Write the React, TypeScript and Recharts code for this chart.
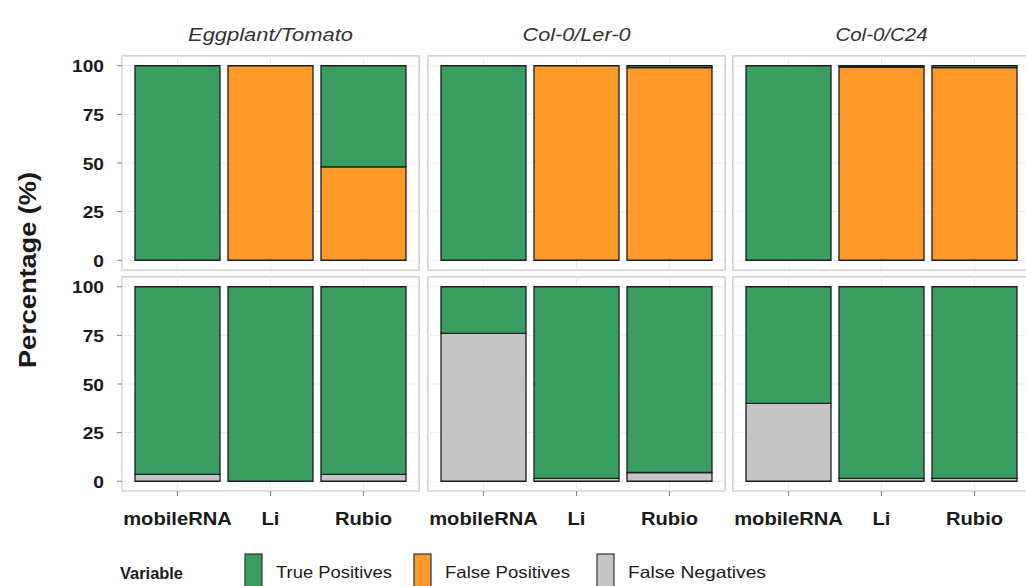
import { BarChart, Bar, XAxis, YAxis, CartesianGrid } from "recharts"

const methods = ["mobileRNA", "Li", "Rubio"]
const panelTitles = ["Eggplant/Tomato", "Col-0/Ler-0", "Col-0/C24"]
const yTicks = [0, 25, 50, 75, 100]

// top row: true positives stacked over false positives
const eggTopTP = [100, 0, 52]
const eggTopFP = [0, 100, 48]
const lerTopTP = [100, 0, 1]
const lerTopFP = [0, 100, 99]
const c24TopTP = [100, 0.7, 1]
const c24TopFP = [0, 99.3, 99]

// bottom row: true positives stacked over false negatives
const eggBotTP = [96.5, 100, 96.5]
const eggBotFN = [3.5, 0, 3.5]
const lerBotTP = [24, 98.5, 95.5]
const lerBotFN = [76, 1.5, 4.5]
const c24BotTP = [60, 98.5, 98.5]
const c24BotFN = [40, 1.5, 1.5]

const GREEN = "#3a9e63"
const ORANGE = "#fd9a2a"
const GREY = "#c5c5c5"
const FONT = "'Liberation Sans', Arial, Helvetica, sans-serif"

const PANEL_X = [122, 428, 733]
const PANEL_Y = [56, 277]
const PANEL_W = 297
const PANEL_H = 214
const YAXIS_W = 60
const XAXIS_H = 45

function rows(tp: number[], other: number[]) {
  return methods.map((m, i) => ({ method: m, tp: tp[i], other: other[i] }))
}

function YTick({ x, y, payload }: any) {
  return (
    <g transform={`translate(${x},${y})`}>
      <text
        transform="scale(1.2,1)"
        textAnchor="end"
        dy="0.42em"
        fontSize={16}
        fontWeight="bold"
        fontFamily={FONT}
        fill="#1a1a1a"
      >
        {payload.value}
      </text>
    </g>
  )
}

function XTick({ x, y, payload }: any) {
  return (
    <g transform={`translate(${x},${y})`}>
      <text
        transform="scale(1.12,1)"
        textAnchor="middle"
        dy="0.71em"
        fontSize={18}
        fontWeight="bold"
        fontFamily={FONT}
        fill="#1a1a1a"
      >
        {payload.value}
      </text>
    </g>
  )
}

function Panel({
  col,
  row,
  data,
  otherColor,
}: {
  col: number
  row: number
  data: { method: string; tp: number; other: number }[]
  otherColor: string
}) {
  const showY = col === 0
  const showX = row === 1
  const left = PANEL_X[col] - (showY ? YAXIS_W : 0)
  const width = PANEL_W + (showY ? YAXIS_W : 0)
  const height = PANEL_H + (showX ? XAXIS_H : 0)
  return (
    <div style={{ position: "absolute", left, top: PANEL_Y[row] }}>
      <BarChart
        width={width}
        height={height}
        data={data}
        margin={{ top: 0, right: 0, bottom: 0, left: 0 }}
        barCategoryGap={4}
      >
        <CartesianGrid stroke="#ededed" strokeWidth={1} />
        <XAxis
          dataKey="method"
          hide={!showX}
          height={XAXIS_H}
          padding={{ left: 9, right: 9 }}
          axisLine={false}
          tickLine={{ stroke: "#808080" }}
          tickSize={5}
          tickMargin={16}
          tick={<XTick />}
          interval={0}
        />
        <YAxis
          hide={!showY}
          width={YAXIS_W}
          domain={[-5, 105]}
          ticks={yTicks}
          allowDataOverflow
          axisLine={false}
          tickLine={{ stroke: "#808080" }}
          tickSize={5}
          tickMargin={13}
          tick={<YTick />}
        />
        <Bar dataKey="other" stackId="s" fill={otherColor} stroke="#1e1e1e" strokeWidth={1.3} isAnimationActive={false} />
        <Bar dataKey="tp" stackId="s" fill={GREEN} stroke="#1e1e1e" strokeWidth={1.3} isAnimationActive={false} />
      </BarChart>
    </div>
  )
}

export default function App() {
  const top = [rows(eggTopTP, eggTopFP), rows(lerTopTP, lerTopFP), rows(c24TopTP, c24TopFP)]
  const bottom = [rows(eggBotTP, eggBotFN), rows(lerBotTP, lerBotFN), rows(c24BotTP, c24BotFN)]
  const titleWidths = [165, 108, 92]
  const legend = [
    { label: "True Positives", color: GREEN, x: 245, w: 116 },
    { label: "False Positives", color: ORANGE, x: 414, w: 125 },
    { label: "False Negatives", color: GREY, x: 597, w: 138 },
  ]

  return (
    <div
      style={{
        position: "absolute",
        left: 0,
        top: 0,
        width: 1026,
        height: 586,
        overflow: "hidden",
        background: "#fff",
        fontFamily: FONT,
      }}
    >
      <svg width={1026} height={586} style={{ position: "absolute", left: 0, top: 0 }}>
        {PANEL_Y.map((py) =>
          PANEL_X.map((px) => (
            <rect
              key={`${px}-${py}`}
              x={px}
              y={py}
              width={PANEL_W}
              height={PANEL_H}
              fill="#fff"
              stroke="#c4c4c4"
              strokeWidth={1.5}
            />
          ))
        )}
        {panelTitles.map((t, i) => (
          <text
            key={t}
            x={PANEL_X[i] + PANEL_W / 2}
            y={41}
            textAnchor="middle"
            fontSize={19}
            fontStyle="italic"
            fontFamily={FONT}
            fill="#333"
            textLength={titleWidths[i]}
            lengthAdjust="spacingAndGlyphs"
          >
            {t}
          </text>
        ))}
        <text
          transform="translate(36,270) rotate(-90)"
          textAnchor="middle"
          fontSize={24}
          fontWeight="bold"
          fontFamily={FONT}
          fill="#1a1a1a"
          textLength={196}
          lengthAdjust="spacingAndGlyphs"
        >
          Percentage (%)
        </text>
        <text
          x={120}
          y={579}
          fontSize={17}
          fontWeight="bold"
          fontFamily={FONT}
          fill="#1a1a1a"
          textLength={63}
          lengthAdjust="spacingAndGlyphs"
        >
          Variable
        </text>
        {legend.map((l) => (
          <g key={l.label}>
            <rect x={l.x} y={554} width={17} height={40} fill={l.color} stroke="#333" strokeWidth={1.2} />
            <text
              x={l.x + 31}
              y={578}
              fontSize={16.5}
              fontFamily={FONT}
              fill="#1a1a1a"
              textLength={l.w}
              lengthAdjust="spacingAndGlyphs"
            >
              {l.label}
            </text>
          </g>
        ))}
      </svg>
      {top.map((d, i) => (
        <Panel key={`t${i}`} col={i} row={0} data={d} otherColor={ORANGE} />
      ))}
      {bottom.map((d, i) => (
        <Panel key={`b${i}`} col={i} row={1} data={d} otherColor={GREY} />
      ))}
    </div>
  )
}
